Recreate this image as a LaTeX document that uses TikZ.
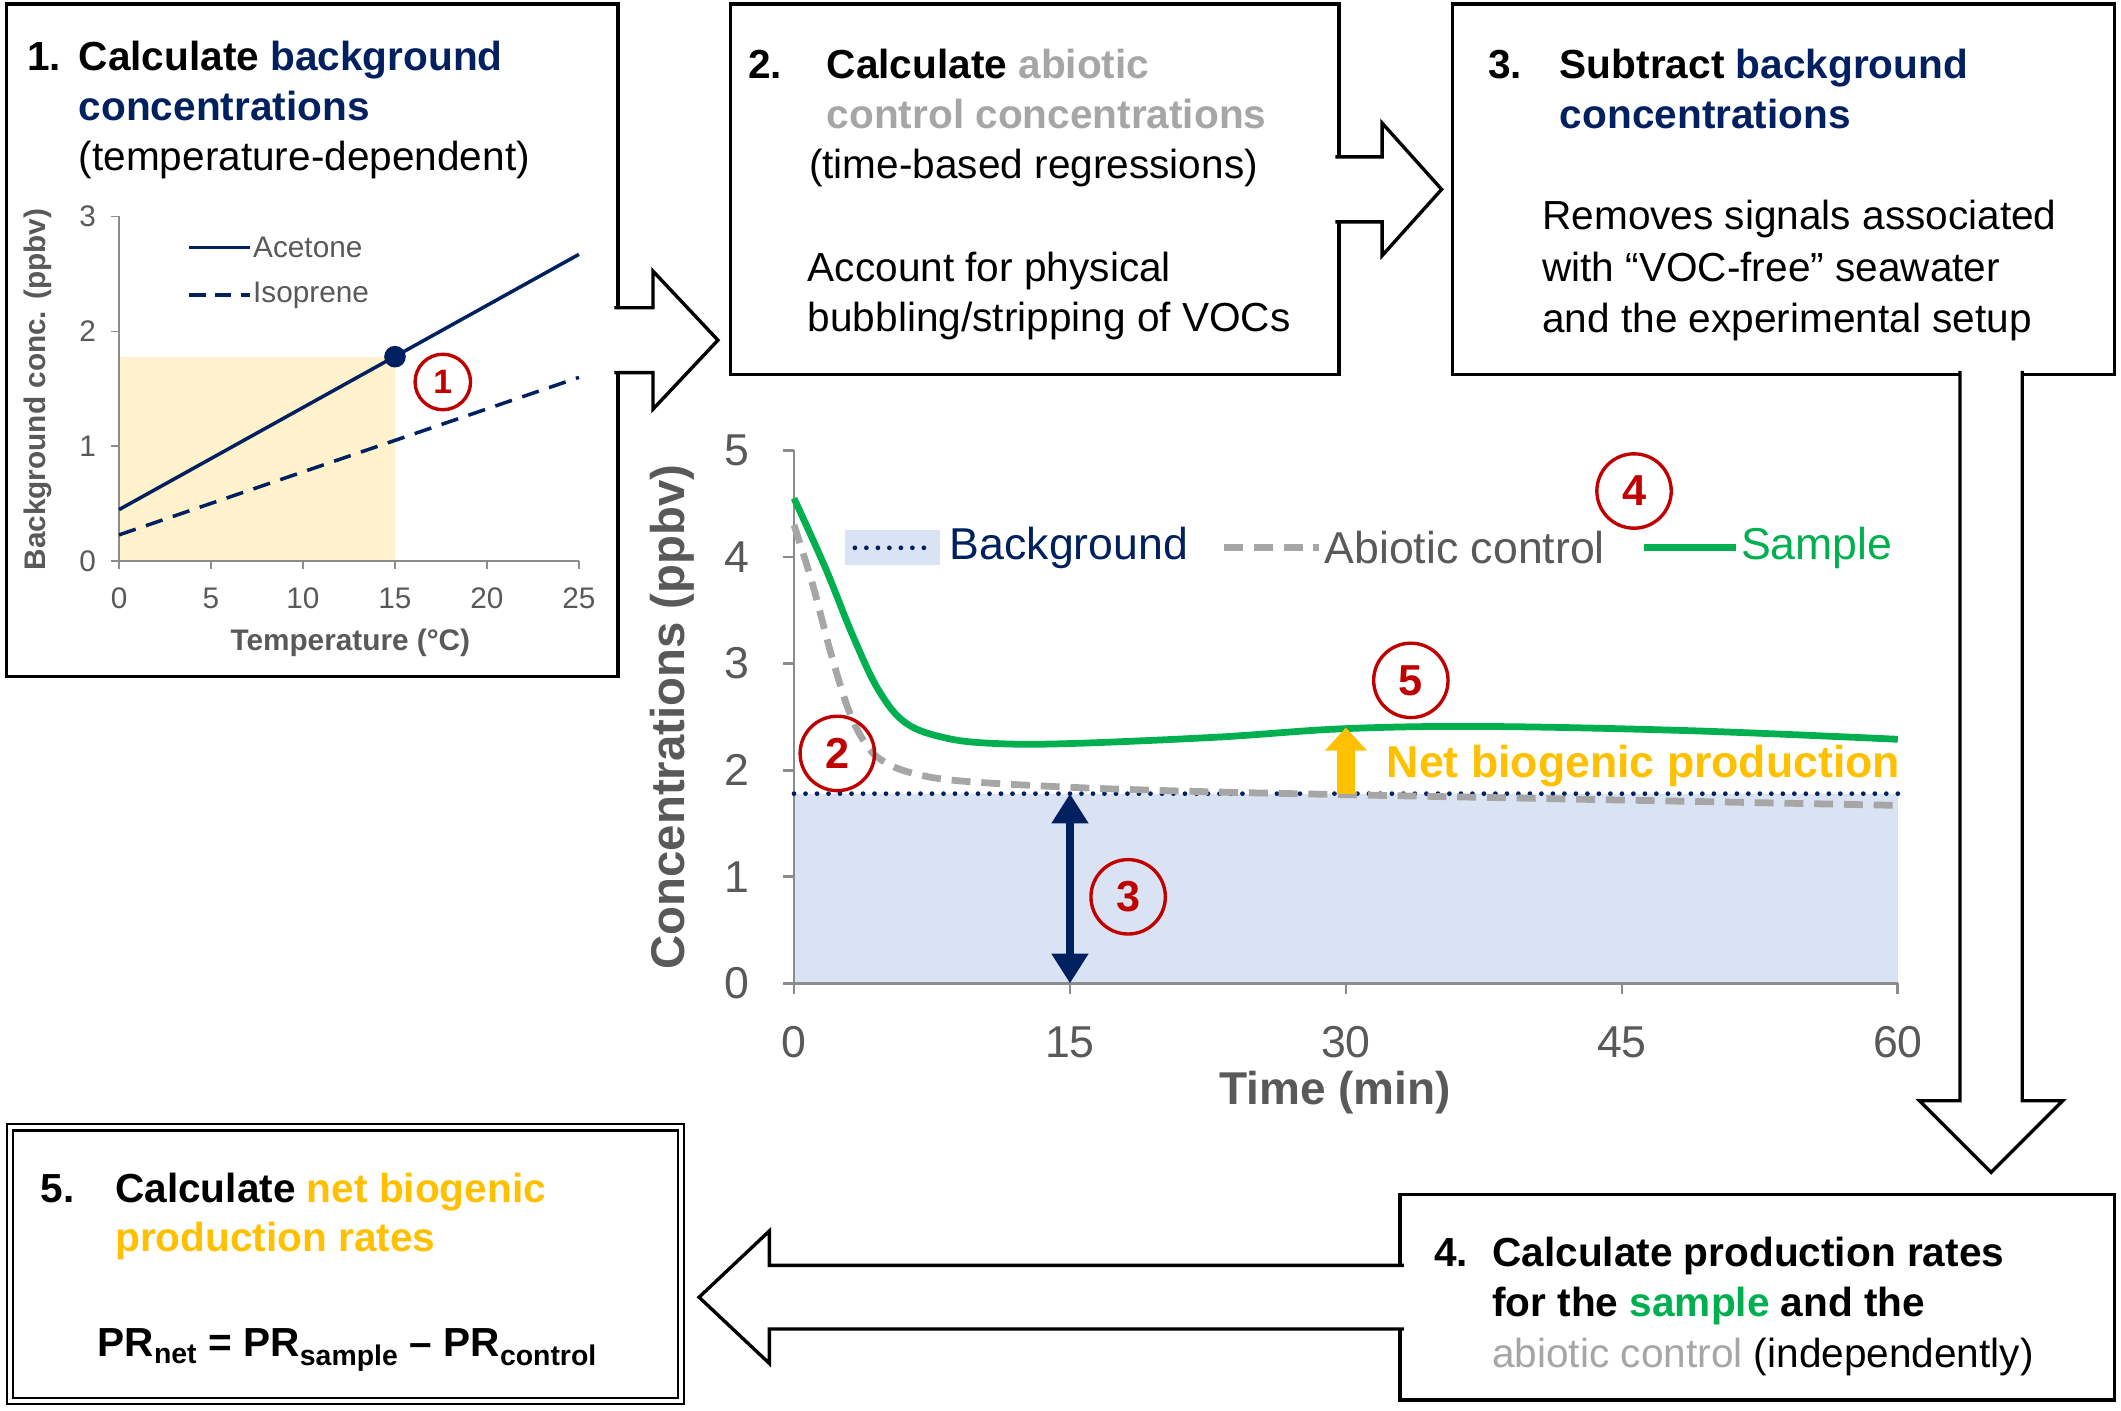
\documentclass[tikz,border=0pt]{standalone}
\usepackage{fontspec}
\setmainfont{Liberation Sans}
\usetikzlibrary{calc}
\usetikzlibrary{arrows.meta}

\definecolor{navy}{HTML}{002060}
\definecolor{abio}{HTML}{A6A6A6}
\definecolor{samp}{HTML}{00B050}
\definecolor{netc}{HTML}{FFC000}
\definecolor{numred}{HTML}{C00000}
\definecolor{bgfill}{HTML}{DAE3F3}
\definecolor{tempfill}{HTML}{FFF2CC}
\definecolor{axgray}{HTML}{8C8C8C}
\definecolor{txtgray}{HTML}{595959}

% start, tip, half shaft, half head, head length
\newcommand{\blockarrow}[5]{%
  \coordinate (hb) at ($(#2)!#5!(#1)$);
  \coordinate (st) at ($(#1)!-4pt!(#2)$);
  \fill[white] ($(st)!#3!90:(#2)$) -- ($(hb)!#3!90:(#2)$) -- ($(hb)!#3!-90:(#2)$) -- ($(st)!#3!-90:(#2)$) -- cycle;
  \draw[blockarr] ($(st)!#3!90:(#2)$) -- ($(hb)!#3!90:(#2)$) -- ($(hb)!#4!90:(#2)$) -- (#2)
     -- ($(hb)!#4!-90:(#2)$) -- ($(hb)!#3!-90:(#2)$) -- ($(st)!#3!-90:(#2)$);
}

\begin{document}
\begin{tikzpicture}[x=1pt,y=1pt,
  box/.style={draw, line width=2.5pt, fill=white, inner sep=0pt},
  blockarr/.style={draw, line width=2.5pt, fill=white, line join=miter},
  boxtxt/.style={anchor=base west, inner sep=0pt, font=\fontsize{30}{36}\selectfont},
  boxhead/.style={boxtxt, font=\fontsize{30}{36}\selectfont\bfseries},
  numcirc/.style={circle, draw=numred, line width=2.5pt, text=numred, inner sep=0pt,
    minimum size=55pt, font=\fontsize{32}{32}\selectfont\bfseries},
  smalltick/.style={inner sep=0pt, text=txtgray, font=\fontsize{22}{26}\selectfont},
  bigtick/.style={inner sep=0pt, text=txtgray, font=\fontsize{33}{36}\selectfont},
  legtxt/.style={anchor=west, inner sep=0pt, font=\fontsize{33}{36}\selectfont}]
\useasboundingbox (0,0) rectangle (1568,1043);

% boxes
\node[box, minimum width=452pt, minimum height=497pt] (b1) at (231,791.5) {};
\node[box, minimum width=450pt, minimum height=274pt] (b2) at (765,903) {};
\node[box, minimum width=489pt, minimum height=274pt] (b3) at (1318.5,903) {};
\node[box, minimum width=528pt, minimum height=152pt] (b4) at (1299,84) {};
\node[box, double, double distance=3pt, line width=1.6pt, minimum width=496pt, minimum height=202pt] (b5) at (255.5,108.5) {};

% block arrows between the steps
\coordinate (t12) at ($(b2.west |- b1.east)+(-8,0)$);
\blockarrow{b1.east}{t12}{24pt}{51pt}{48pt}
\coordinate (t23) at ($(b3.west)+(-7,0)$);
\blockarrow{b2.east}{t23}{24pt}{49pt}{44pt}
\coordinate (s34) at ($(b3.south)+(153.5,0)$);
\coordinate (t34) at ($(s34 |- b4.north)+(0,15)$);
\blockarrow{s34}{t34}{23pt}{53pt}{53pt}
\coordinate (t45) at ($(b5.east |- b4.west)+(12.5,0)$);
\blockarrow{b4.west}{t45}{23.5pt}{49pt}{52pt}

% step 1
\node[boxhead] (n1) at (20,991) {1.};
\node[boxhead] (s1a) at (58,991) {Calculate \textcolor{navy}{background}};
\node[boxhead, text=navy] (s1b) at (58,954) {concentrations};
\node[boxtxt] (s1c) at (58,917) {(temperature-dependent)};

% step 2
\node[boxhead] (n2) at (553,985) {2.};
\node[boxhead] (s2a) at (611,985) {Calculate \textcolor{abio}{abiotic}};
\node[boxhead, text=abio] (s2b) at (611,948) {control concentrations};
\node[boxtxt] (s2c) at (598,911) {(time-based regressions)};
\node[boxtxt] (s2d) at (597,835) {Account for physical};
\node[boxtxt] (s2e) at (597,798) {bubbling/stripping of VOCs};

% step 3
\node[boxhead] (n3) at (1100,985) {3.};
\node[boxhead] (s3a) at (1153,985) {Subtract \textcolor{navy}{background}};
\node[boxhead, text=navy] (s3b) at (1153,948) {concentrations};
\node[boxtxt] (s3c) at (1140,873) {Removes signals associated};
\node[boxtxt] (s3d) at (1140,835) {with “VOC-free” seawater};
\node[boxtxt] (s3e) at (1140,797) {and the experimental setup};

% step 4
\node[boxhead] (n4) at (1060,107) {4.};
\node[boxhead] (s4a) at (1103,107) {Calculate production rates};
\node[boxhead] (s4b) at (1103,70) {for the \textcolor{samp}{sample} and the};
\node[boxtxt] (s4c) at (1103,32) {\textcolor{abio}{abiotic control} (independently)};

% step 5
\node[boxhead] (n5) at (30,154) {5.};
\node[boxhead] (s5a) at (85,154) {Calculate \textcolor{netc}{net biogenic}};
\node[boxhead, text=netc] (s5b) at (85,118) {production rates};
\node[boxhead] (s5c) at (72,40) {PR\textsubscript{net} = PR\textsubscript{sample} -- PR\textsubscript{control}};

% small chart: background vs temperature
\begin{scope}[shift={(88,628)}, x=13.6pt, y=85pt]
\fill[tempfill] (0,0) rectangle (15,1.78);
\draw[axgray, line width=1.3pt] (0,3) -- (0,0) -- (25,0);
\foreach \k in {0,...,3} {
  \draw[axgray, line width=1.3pt] (0,\k) -- ++(-6pt,0);
  \node[smalltick] (ty\k) at (-1.7,\k) {\k};
}
\foreach \t in {0,5,...,25} {
  \draw[axgray, line width=1.3pt] (\t,0) -- ++(0,-6pt);
  \node[smalltick] (tx\t) at (\t,-0.32) {\t};
}
\draw[navy, line width=2.6pt, dash pattern=on 13pt off 8pt] (0,0.23) -- (25,1.6);
\draw[navy, line width=2.6pt] (0,0.45) -- (25,2.67);
\fill[navy] (15,1.78) circle (8pt);
\node[numcirc, minimum size=41pt, font=\fontsize{25}{25}\selectfont\bfseries] (c1) at (17.6,1.56) {1};
\end{scope}
\draw[navy, line width=2.6pt] (140,860) -- (185,860);
\node[legtxt, text=txtgray, font=\fontsize{22}{26}\selectfont] (lac) at (187,860) {Acetone};
\draw[navy, line width=2.6pt, dash pattern=on 12pt off 7pt] (140,825) -- (185,825);
\node[legtxt, text=txtgray, font=\fontsize{22}{26}\selectfont] (lis) at (187,825) {Isoprene};
\node[inner sep=0pt, text=txtgray, font=\fontsize{22}{26}\selectfont\bfseries] (xt1) at (259,568) {Temperature (°C)};
\node[inner sep=0pt, text=txtgray, rotate=90, font=\fontsize{22}{26}\selectfont\bfseries] (yt1) at (28,755) {Background conc. (ppbv)};

% main chart: concentrations vs time
\begin{scope}[shift={(587,316)}, x=13.6pt, y=78.8pt]
\fill[bgfill] (0,0) rectangle (60,1.78);
\draw[axgray, line width=2pt] (0,5) -- (0,0) -- (60,0);
\foreach \k in {0,...,5} {
  \draw[axgray, line width=2pt] (0,\k) -- ++(-8pt,0);
  \node[bigtick] (my\k) at (-3.1,\k) {\k};
}
\foreach \t in {0,15,...,60} {
  \draw[axgray, line width=2pt] (\t,0) -- ++(0,-8pt);
  \node[bigtick] (mx\t) at (\t,-0.55) {\t};
}
\draw[navy, line width=3.5pt, line cap=round, dash pattern=on 0pt off 8.5pt] (0,1.78) -- (60,1.78);
\draw[abio, line width=5pt, dash pattern=on 14pt off 8pt] plot[smooth, tension=0.6] coordinates
  {(0,4.3) (1,3.75) (2,3.1) (3,2.55) (4,2.22) (5,2.07) (6.5,1.97) (9,1.9) (15,1.84) (22,1.8) (30,1.77) (45,1.72) (60,1.67)};
\draw[samp, line width=5pt] plot[smooth, tension=0.6] coordinates
  {(0,4.55) (1.7,3.9) (3.2,3.26) (4.6,2.75) (6.1,2.44) (8.3,2.3) (11,2.25) (15,2.25) (23,2.31) (30,2.39) (37.7,2.41) (48.8,2.37) (60,2.29)};
\draw[navy, line width=6pt, {Triangle[width=26pt,length=22pt]}-{Triangle[width=26pt,length=22pt]}] (15,0) -- (15,1.78);
\draw[netc, line width=13pt, -{Triangle[width=30pt,length=17pt]}] (30,1.78) -- (30,2.4);
\end{scope}
\node[legtxt, text=netc, font=\fontsize{33}{36}\selectfont\bfseries] (net) at (1025,477) {Net biogenic production};
\node[inner sep=0pt, text=txtgray, font=\fontsize{34}{38}\selectfont\bfseries] (xt2) at (987,235) {Time (min)};
\node[inner sep=0pt, text=txtgray, rotate=90, font=\fontsize{35}{38}\selectfont\bfseries] (yt2) at (497,513) {Concentrations (ppbv)};

% legend
\fill[bgfill] (625,625) rectangle (695,651);
\draw[navy, line width=3.5pt, line cap=round, dash pattern=on 0pt off 8.5pt] (632,638) -- (690,638);
\node[legtxt, text=navy] (lbg) at (702,638) {Background};
\draw[abio, line width=5pt, dash pattern=on 14pt off 8pt] (905,638) -- (975,638);
\node[legtxt, text=txtgray] (lab) at (979,638) {Abiotic control};
\draw[samp, line width=5pt] (1215,638) -- (1283,638);
\node[legtxt, text=samp] (lsa) at (1287,638) {Sample};

% numbered markers
\node[numcirc] (c2) at (619,486) {2};
\node[numcirc] (c3) at (834,380) {3};
\node[numcirc] (c4) at (1208,680) {4};
\node[numcirc] (c5) at (1043,540) {5};
\end{tikzpicture}
\end{document}
